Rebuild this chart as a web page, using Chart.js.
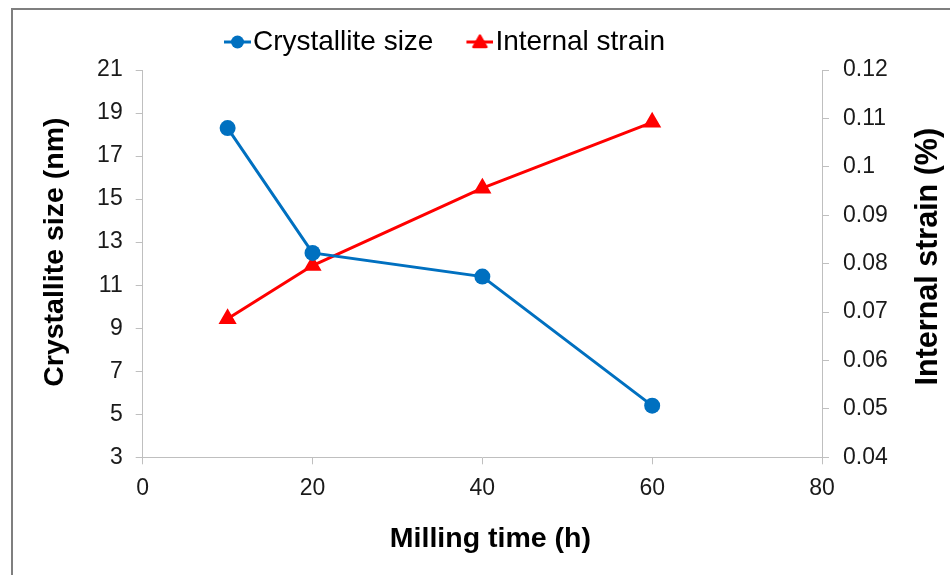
<!DOCTYPE html>
<html>
<head>
<meta charset="utf-8">
<script src="https://cdn.jsdelivr.net/npm/chart.js@4/dist/chart.umd.min.js"></script>
<style>
html, body { margin: 0; padding: 0; background: #ffffff; overflow: hidden; width: 950px; height: 575px; }
#wrap { position: relative; width: 950px; height: 575px; overflow: hidden; }
#frame { position: absolute; left: 11px; top: 8px; width: 1000px; height: 1000px; border: 2px solid #7f7f7f; box-sizing: border-box; }
#c { position: absolute; left: 0; top: 0; }
</style>
</head>
<body>
<div id="wrap"><div id="frame"></div><canvas id="c" width="950" height="575"></canvas></div>
<script>
// ---- data ----
const millingTime = [10, 20, 40, 60];
const crystalliteSize = [18.3, 12.5, 11.4, 5.4];
const internalStrain = [0.0686, 0.0796, 0.0956, 0.1092];

const seriesNames = ['Crystallite size', 'Internal strain'];
const xTickValues = [0, 20, 40, 60, 80];
const leftTickValues = [3, 5, 7, 9, 11, 13, 15, 17, 19, 21];
const rightTickValues = [0.04, 0.05, 0.06, 0.07, 0.08, 0.09, 0.10, 0.11, 0.12];
const rightTickLabels = ['0.04', '0.05', '0.06', '0.07', '0.08', '0.09', '0.1', '0.11', '0.12'];

const xTitle = 'Milling time (h)';
const leftTitle = 'Crystallite size (nm)';
const rightTitle = 'Internal strain (%)';

// ---- styles ----
const FONT = '"Liberation Sans", Arial, Helvetica, sans-serif';
const BLUE = '#0070C0';
const RED = '#FF0000';
const AXIS = '#bfbfbf';
const TICK_TXT = '#1a1a1a';
const TITLE_SIZE = 28.5;

Chart.defaults.font.family = FONT;

// legend icon: short line with marker, placed right of the icon centre
function legendIcon(color, style) {
  const c = document.createElement('canvas');
  c.width = 52; c.height = 18;
  const g = c.getContext('2d');
  g.strokeStyle = color; g.fillStyle = color;
  g.lineWidth = 3;
  g.beginPath(); g.moveTo(25, 9); g.lineTo(52, 9); g.stroke();
  const cx = 38.5;
  if (style === 'circle') {
    g.beginPath(); g.arc(cx, 9, 6.5, 0, Math.PI * 2); g.fill();
  } else {
    g.lineJoin = 'round'; g.lineWidth = 2.5;
    g.beginPath(); g.moveTo(cx, 2.5); g.lineTo(cx + 6.5, 14); g.lineTo(cx - 6.5, 14); g.closePath();
    g.fill(); g.stroke();
  }
  return c;
}
const legendIcons = [legendIcon(BLUE, 'circle'), legendIcon(RED, 'triangle')];

const toPoints = (xs, ys) => xs.map((x, i) => ({ x: x, y: ys[i] }));

function drawAxisTitle(chart, scale, cx, cy, rotation, size) {
  const t = scale.options.title;
  const ctx = chart.ctx;
  ctx.save();
  ctx.translate(cx, cy);
  ctx.rotate(rotation);
  ctx.font = 'bold ' + size + 'px ' + FONT;
  ctx.fillStyle = t.color || '#000000';
  ctx.textAlign = 'center';
  ctx.textBaseline = 'middle';
  ctx.fillText(t.text, 0, 0);
  ctx.restore();
}

const layoutTweaks = {
  id: 'layoutTweaks',
  afterLayout(chart) {
    const lg = chart.legend;
    if (lg) {
      const dx = 438 - (lg.left + lg.right) / 2;
      lg.left += dx; lg.right += dx;
      lg.top -= 4; lg.bottom -= 4;
    }
  },
  afterDraw(chart) {
    const x = chart.scales.x, y = chart.scales.y, y2 = chart.scales.y2;
    const mid = (y.top + y.bottom) / 2;
    const xmid = (x.left + x.right) / 2;
    drawAxisTitle(chart, y, 55.5, mid - 11.5, -Math.PI / 2, TITLE_SIZE);
    drawAxisTitle(chart, y2, 929, mid - 7, -Math.PI / 2, 30.5);
    drawAxisTitle(chart, x, xmid + 8, 539, 0, TITLE_SIZE);
  }
};

new Chart(document.getElementById('c'), {
  type: 'line',
  data: {
    datasets: [
      {
        label: seriesNames[0],
        data: toPoints(millingTime, crystalliteSize),
        yAxisID: 'y',
        borderColor: BLUE,
        backgroundColor: BLUE,
        borderWidth: 3,
        pointStyle: 'circle',
        pointRadius: 8,
        pointHoverRadius: 8,
        pointBorderWidth: 0,
        pointBackgroundColor: BLUE,
        tension: 0
      },
      {
        label: seriesNames[1],
        data: toPoints(millingTime, internalStrain),
        yAxisID: 'y2',
        borderColor: RED,
        backgroundColor: RED,
        borderWidth: 3,
        pointStyle: 'triangle',
        pointRadius: 8,
        pointHoverRadius: 8,
        pointBorderWidth: 2.5,
        pointBorderColor: RED,
        pointBackgroundColor: RED,
        borderJoinStyle: 'round',
        tension: 0
      }
    ]
  },
  options: {
    responsive: false,
    animation: false,
    devicePixelRatio: 1,
    layout: { padding: { left: 12, right: 0, top: 12, bottom: 0 } },
    plugins: {
      tooltip: { enabled: false },
      legend: {
        display: true,
        position: 'top',
        labels: {
          usePointStyle: true,
          boxWidth: 28,
          padding: 20,
          color: '#000000',
          font: { size: 28 },
          generateLabels(chart) {
            const items = Chart.defaults.plugins.legend.labels.generateLabels(chart);
            items.forEach((it) => { it.pointStyle = legendIcons[it.datasetIndex]; });
            return items;
          }
        }
      }
    },
    scales: {
      x: {
        type: 'linear',
        position: 'bottom',
        min: 0, max: 80,
        afterBuildTicks: (s) => { s.ticks = xTickValues.map((v) => ({ value: v })); },
        afterFit: (s) => { s.height = 117.7; },
        grid: { drawOnChartArea: false, drawTicks: true, tickLength: 7, color: AXIS, lineWidth: 1 },
        border: { color: AXIS, width: 1 },
        ticks: { color: TICK_TXT, font: { size: 23 }, padding: 11, maxRotation: 0 },
        title: { display: false, text: xTitle, color: '#000000' }
      },
      y: {
        type: 'linear',
        position: 'left',
        min: 3, max: 21,
        afterBuildTicks: (s) => { s.ticks = leftTickValues.map((v) => ({ value: v })); },
        afterFit: (s) => { s.width = 130.7; },
        grid: { drawOnChartArea: false, drawTicks: true, tickLength: 7, color: AXIS, lineWidth: 1 },
        border: { color: AXIS, width: 1 },
        ticks: { color: TICK_TXT, font: { size: 23 }, padding: 13 },
        title: { display: false, text: leftTitle, color: '#000000' }
      },
      y2: {
        type: 'linear',
        position: 'right',
        min: 0.04, max: 0.12,
        afterBuildTicks: (s) => { s.ticks = rightTickValues.map((v) => ({ value: v })); },
        afterFit: (s) => { s.width = 128; },
        grid: { drawOnChartArea: false, drawTicks: true, tickLength: 7, color: AXIS, lineWidth: 1 },
        border: { color: AXIS, width: 1 },
        ticks: { color: TICK_TXT, font: { size: 23 }, padding: 14, callback: (v, i) => rightTickLabels[i] },
        title: { display: false, text: rightTitle, color: '#000000' }
      }
    }
  },
  plugins: [layoutTweaks]
});
</script>
</body>
</html>
